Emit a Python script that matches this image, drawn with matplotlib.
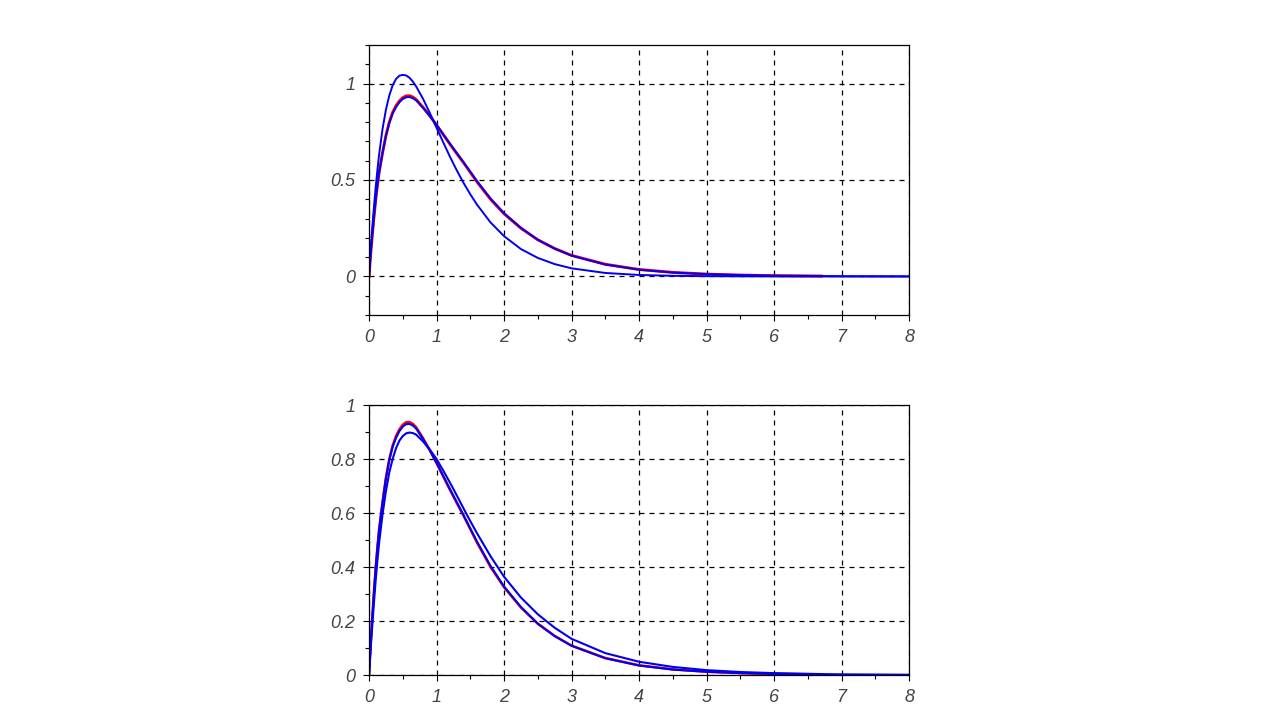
import matplotlib
matplotlib.use("Agg")
import matplotlib.pyplot as plt
from matplotlib.ticker import MultipleLocator, FuncFormatter

# --- values ---
t = [0, 0.025, 0.05, 0.075, 0.1, 0.125, 0.15, 0.2, 0.25, 0.3, 0.35, 0.4, 0.45,
     0.5, 0.55, 0.6, 0.65, 0.7, 0.8, 0.9, 1.0, 1.1, 1.2, 1.3, 1.4, 1.5, 1.6,
     1.8, 2.0, 2.25, 2.5, 2.75, 3.0, 3.5, 4.0, 4.5, 5.0, 5.5, 6.0, 6.7]
t_long = t + [7.0, 8.0]

# red reference curve (same in both panels)
y_ref = [0, 0.12, 0.22, 0.315, 0.40, 0.475, 0.54, 0.64, 0.73, 0.80, 0.85, 0.885,
         0.91, 0.927, 0.936, 0.937, 0.93, 0.917, 0.877, 0.833, 0.785, 0.735,
         0.685, 0.637, 0.59, 0.54, 0.49, 0.40, 0.325, 0.25, 0.19, 0.145, 0.109,
         0.063, 0.036, 0.021, 0.012, 0.007, 0.004, 0.002]

# blue curve lying on the red one
y_fit = [0, 0.12, 0.22, 0.315, 0.40, 0.475, 0.54, 0.64, 0.728, 0.795, 0.845,
         0.878, 0.903, 0.92, 0.929, 0.93, 0.924, 0.912, 0.874, 0.832, 0.786,
         0.737, 0.688, 0.64, 0.592, 0.543, 0.494, 0.404, 0.328, 0.252, 0.19,
         0.144, 0.108, 0.062, 0.035, 0.02, 0.012, 0.007, 0.004, 0.002]

# top panel: fast blue curve
y_fast = [0, 0.135, 0.258, 0.368, 0.467, 0.555, 0.633, 0.764, 0.864, 0.938,
          0.991, 1.024, 1.041, 1.045, 1.042, 1.03, 1.01, 0.984, 0.921, 0.848,
          0.771, 0.695, 0.62, 0.55, 0.485, 0.426, 0.372, 0.28, 0.209, 0.142,
          0.096, 0.064, 0.042, 0.018, 0.0076, 0.0032, 0.0013, 0.0005, 0.0002,
          0.0, 0.0, 0.0]

# bottom panel: blue curve with lower peak, heavier tail
y_slow = [0, 0.10, 0.19, 0.275, 0.355, 0.425, 0.49, 0.595, 0.68, 0.75, 0.80,
          0.84, 0.868, 0.885, 0.895, 0.898, 0.896, 0.89, 0.865, 0.835, 0.80,
          0.757, 0.712, 0.665, 0.617, 0.57, 0.525, 0.44, 0.364, 0.287, 0.225,
          0.175, 0.134, 0.081, 0.049, 0.030, 0.018, 0.011, 0.007, 0.0035,
          0.0025, 0.001]

x_ticks = [0, 1, 2, 3, 4, 5, 6, 7, 8]
top_yticks = [0, 0.5, 1]
bot_yticks = [0, 0.2, 0.4, 0.6, 0.8, 1]

fmt = FuncFormatter(lambda v, p: ("%g" % round(v, 3)))


def style_axes(ax, yticks, ylim):
    ax.set_xlim(0, 8)
    ax.set_ylim(*ylim)
    ax.set_xticks(x_ticks)
    ax.set_yticks(yticks)
    ax.xaxis.set_minor_locator(MultipleLocator(0.5))
    ax.yaxis.set_minor_locator(MultipleLocator(0.1))
    ax.xaxis.set_major_formatter(fmt)
    ax.yaxis.set_major_formatter(fmt)
    ax.grid(True, which="major", color="black", linestyle=(0, (4, 4)), linewidth=0.9)
    ax.tick_params(which="both", direction="out", top=False, right=False,
                   color="black", width=0.8)
    ax.tick_params(which="major", length=4, pad=6, labelcolor="#444444")
    ax.tick_params(which="minor", length=3)
    for lab in ax.get_xticklabels() + ax.get_yticklabels():
        lab.set_fontfamily("Liberation Sans")
        lab.set_fontstyle("italic")
        lab.set_fontsize(13)
    for s in ax.spines.values():
        s.set_linewidth(0.9)
        s.set_color("black")
    ax.set_axisbelow(True)


fig = plt.figure(figsize=(12.8, 7.2), dpi=100)
ax1 = fig.add_axes([0.2883, 0.5625, 0.4219, 0.375])
ax2 = fig.add_axes([0.2883, 0.0625, 0.4219, 0.375])

# haut
ax1.plot(t, y_ref, color="red", linewidth=2.1)
ax1.plot(t_long, y_fit + [0.001, 0.0], color="#0000ee", linewidth=1.4)
ax1.plot(t_long, y_fast, color="#0000ee", linewidth=1.4)
style_axes(ax1, top_yticks, (-0.2, 1.2))

# bas
ax2.plot(t, y_ref, color="red", linewidth=1.8)
ax2.plot(t, y_fit, color="#0000ee", linewidth=1.5)
ax2.plot(t_long, y_slow, color="#0000ee", linewidth=1.5)
style_axes(ax2, bot_yticks, (0, 1))

fig.savefig("out.png", dpi=100)
